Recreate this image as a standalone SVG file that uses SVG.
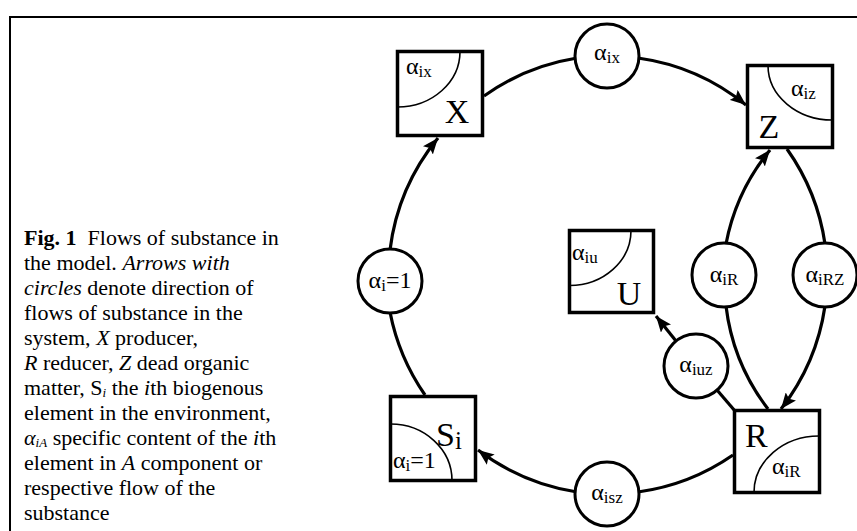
<svg xmlns="http://www.w3.org/2000/svg" width="857" height="531" viewBox="0 0 857 531">
<style>
.frame{fill:none;stroke:#000;stroke-width:2}
.box{fill:#fff;stroke:#000;stroke-width:3.5}
.arc{fill:none;stroke:#000;stroke-width:1.6}
.flow{fill:#fff;stroke:#000;stroke-width:3}
.con{fill:none;stroke:#000;stroke-width:3.2}
text{font-family:"Liberation Serif","Times New Roman",serif;fill:#000}
.cap{font-size:22px}
.csub{font-size:13px;font-style:italic}
.big{font-size:34px}
.al{font-size:24px}
.sub{font-size:17px}
</style>
<defs>
<marker id="ah" markerUnits="userSpaceOnUse" markerWidth="17" markerHeight="13" refX="16" refY="6.5" orient="auto">
<path d="M0,0 L16,6.5 L0,13 L3,6.5 z" fill="#000"/>
</marker>
</defs>
<path class="frame" d="M10,540 L10,17 L870,17"/>
<g id="caption">
<text class="cap" x="24" y="245"><tspan font-weight="bold">Fig. 1</tspan>&#160; Flows of substance in</text>
<text class="cap" x="24" y="270">the model. <tspan font-style="italic">Arrows with</tspan></text>
<text class="cap" x="24" y="295"><tspan font-style="italic">circles</tspan> denote direction of</text>
<text class="cap" x="24" y="320">flows of substance in the</text>
<text class="cap" x="24" y="345">system, <tspan font-style="italic">X</tspan> producer,</text>
<text class="cap" x="24" y="370"><tspan font-style="italic">R</tspan> reducer, <tspan font-style="italic">Z</tspan> dead organic</text>
<text class="cap" x="24" y="395">matter, S<tspan class="csub" dy="2">i</tspan><tspan dy="-2"> the </tspan><tspan font-style="italic">i</tspan>th biogenous</text>
<text class="cap" x="24" y="420">element in the environment,</text>
<text class="cap" x="24" y="445"><tspan font-style="italic">α</tspan><tspan class="csub" dy="2">iA</tspan><tspan dy="-2"> specific content of the </tspan><tspan font-style="italic">i</tspan>th</text>
<text class="cap" x="24" y="470">element in <tspan font-style="italic">A</tspan> component or</text>
<text class="cap" x="24" y="495">respective flow of the</text>
<text class="cap" x="24" y="520">substance</text>
</g>
<g id="connectors">
<path class="con" d="M390,250 A219,219 0 0 1 438,138" marker-end="url(#ah)"/>
<path class="con" d="M484,96 A219,219 0 0 1 577,58"/>
<path class="con" d="M638,58 A219,219 0 0 1 746,105" marker-end="url(#ah)"/>
<path class="con" d="M787,149 A219,219 0 0 1 825,244"/>
<path class="con" d="M825,306 A219,219 0 0 1 781,409" marker-end="url(#ah)"/>
<path class="con" d="M733,455 A219,219 0 0 1 638,492"/>
<path class="con" d="M577,492 A219,219 0 0 1 478,450" marker-end="url(#ah)"/>
<path class="con" d="M425,395 A219,219 0 0 1 390,312"/>
<path class="con" d="M768,409 A210,210 0 0 1 726,306"/>
<path class="con" d="M726,244 A210,210 0 0 1 770,150" marker-end="url(#ah)"/>
<path class="con" d="M735,411 L717,390"/>
<path class="con" d="M676,341 L656,316" marker-end="url(#ah)"/>
</g>
<g id="node-X">
<rect class="box" x="397.5" y="51.5" width="85" height="84"/>
<path class="arc" d="M460,51.5 A62.5,55.5 0 0 1 397.5,107"/>
<text class="al" x="406" y="74">α<tspan class="sub" dy="3">ix</tspan></text>
<text class="big" x="457" y="123" text-anchor="middle">X</text>
</g>
<g id="node-Z">
<rect class="box" x="747.5" y="65.5" width="85" height="82"/>
<path class="arc" d="M768,65.5 A64.5,54.5 0 0 0 832.5,120"/>
<text class="al" x="791" y="96">α<tspan class="sub" dy="3">iz</tspan></text>
<text class="big" x="769" y="138" text-anchor="middle">Z</text>
</g>
<g id="node-U">
<rect class="box" x="569.5" y="230.5" width="84" height="82"/>
<path class="arc" d="M631,230.5 A61.5,55 0 0 1 569.5,285.5"/>
<text class="al" x="572" y="260">α<tspan class="sub" dy="3">iu</tspan></text>
<text class="big" x="629" y="305" text-anchor="middle">U</text>
</g>
<g id="node-S">
<rect class="box" x="390.5" y="396.5" width="85" height="84"/>
<path class="arc" d="M390.5,424 A61.5,56.5 0 0 1 452,480.5"/>
<text class="big" x="436" y="446">S<tspan font-size="25" dy="3">i</tspan></text>
<text class="al" x="393" y="468">α<tspan class="sub" dy="3">i</tspan><tspan dy="-3">=1</tspan></text>
</g>
<g id="node-R">
<rect class="box" x="734.5" y="410.5" width="85" height="82"/>
<path class="arc" d="M819.5,436 A65,56.5 0 0 0 754,492.5"/>
<text class="big" x="745" y="447">R</text>
<text class="al" x="772" y="474">α<tspan class="sub" dy="3">iR</tspan></text>
</g>
<g id="flow-ix">
<circle class="flow" cx="607" cy="56" r="32"/>
<text class="al" x="607" y="60" text-anchor="middle">α<tspan class="sub" dy="3">ix</tspan></text>
</g>
<g id="flow-i1">
<circle class="flow" cx="390" cy="281" r="32"/>
<text class="al" x="390" y="288" text-anchor="middle">α<tspan class="sub" dy="3">i</tspan><tspan dy="-3">=1</tspan></text>
</g>
<g id="flow-iR">
<circle class="flow" cx="724" cy="275" r="32"/>
<text class="al" x="724" y="282" text-anchor="middle">α<tspan class="sub" dy="3">iR</tspan></text>
</g>
<g id="flow-iRZ">
<circle class="flow" cx="825" cy="275" r="32"/>
<text class="al" x="825" y="282" text-anchor="middle">α<tspan class="sub" dy="3">iRZ</tspan></text>
</g>
<g id="flow-iuz">
<circle class="flow" cx="696" cy="366" r="32"/>
<text class="al" x="696" y="372" text-anchor="middle">α<tspan class="sub" dy="3">iuz</tspan></text>
</g>
<g id="flow-isz">
<circle class="flow" cx="607" cy="494" r="32"/>
<text class="al" x="607" y="500" text-anchor="middle">α<tspan class="sub" dy="3">isz</tspan></text>
</g>
</svg>
